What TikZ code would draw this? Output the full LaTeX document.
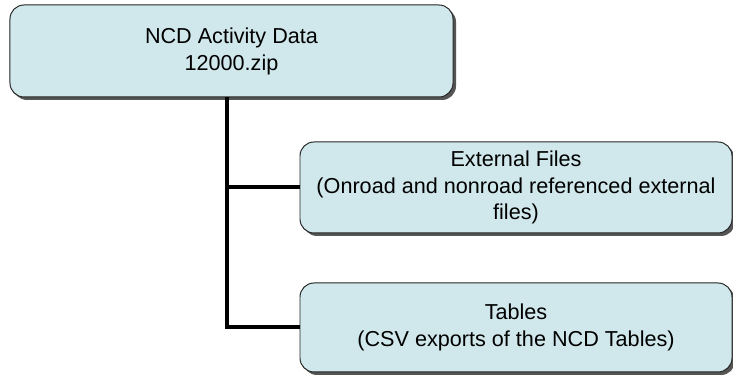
\documentclass[tikz,border=0pt]{standalone}
\usepackage{fontspec}
\setmainfont{Liberation Sans}
\usetikzlibrary{shadows}

\definecolor{boxfill}{RGB}{208,232,236}
\definecolor{boxshadow}{RGB}{85,85,85}

\begin{document}
\begin{tikzpicture}[x=0.5bp,y=-0.5bp,
  box/.style={draw=black!85,line width=0.5pt,fill=boxfill,rounded corners=7bp,
    align=center,inner sep=0pt,font=\fontsize{10.85}{13.5}\selectfont,
    drop shadow={shadow xshift=1.5bp,shadow yshift=-1.5bp,fill=boxshadow,opacity=1}},
  link/.style={line width=2bp,black}]

\useasboundingbox (0,0) rectangle (733,375);

\node[box,minimum width=221.5bp,minimum height=46bp] (activity) at (231.5,51) {NCD Activity Data\\12000.zip};

\node[box,minimum width=216bp,minimum height=45.5bp] (external) at (516,187.5) {External Files\\(Onroad and nonroad referenced external\\files)};
\node[box,minimum width=216bp,minimum height=44.5bp] (tables) at (516,327.5) {Tables\\(CSV exports of the NCD Tables)};

\coordinate (trunk) at ([xshift=-2.25bp]activity.south);

\draw[link] (trunk) |- (tables.west);
\draw[link] (trunk |- external.west) -- (external.west);

\end{tikzpicture}
\end{document}
